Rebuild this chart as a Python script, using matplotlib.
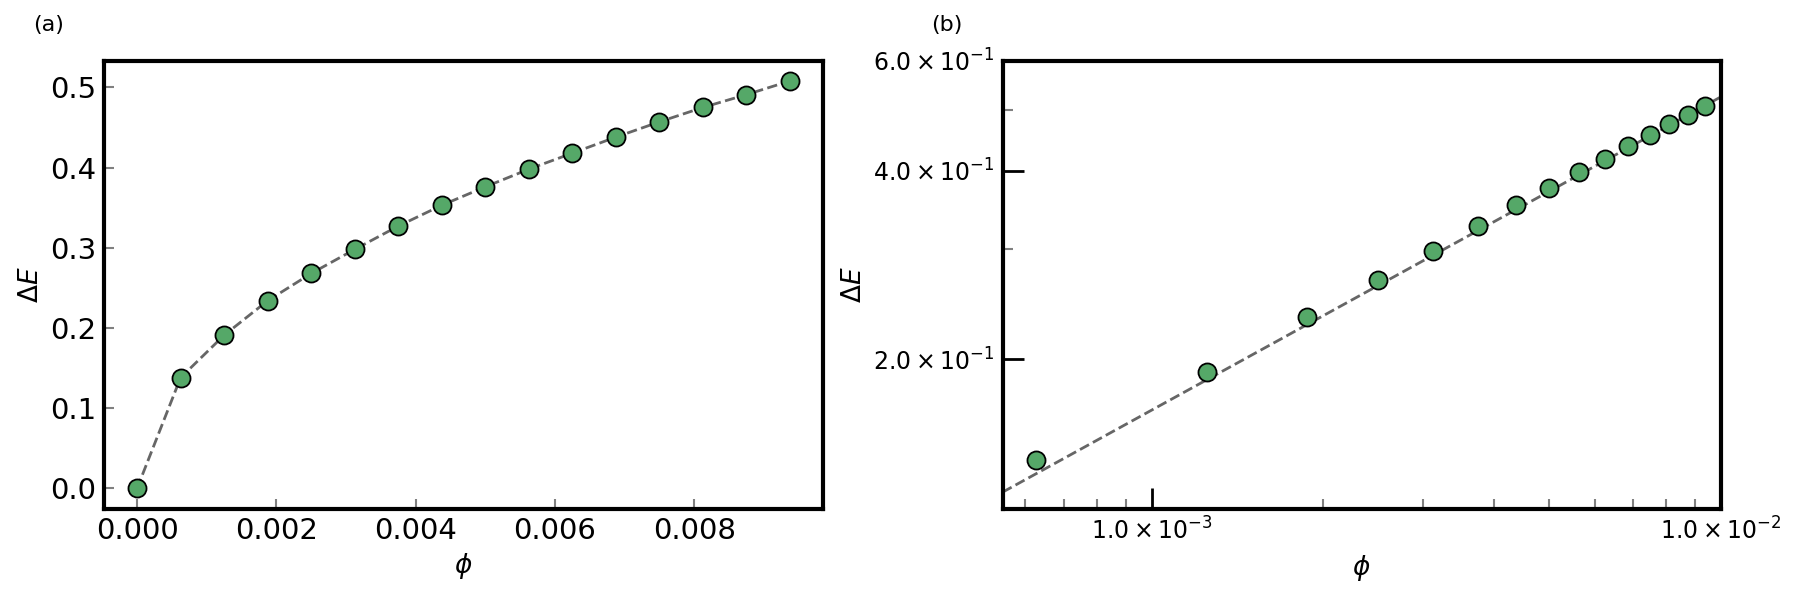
import numpy as np
import matplotlib
matplotlib.use("Agg")
import matplotlib.pyplot as plt
from matplotlib.ticker import FixedLocator, FuncFormatter, NullFormatter

# data
phi = [0.0, 0.000625, 0.00125, 0.001875, 0.0025, 0.003125, 0.00375, 0.004375,
       0.005, 0.005625, 0.00625, 0.006875, 0.0075, 0.008125, 0.00875, 0.009375]
dE = [0.0, 0.138, 0.191, 0.234, 0.268, 0.298, 0.327, 0.353,
      0.376, 0.398, 0.418, 0.438, 0.457, 0.475, 0.491, 0.508]

# power-law guide line in (b): dE = A * phi**b
fit_A = 5.25
fit_b = 0.5

y_major = [0.2, 0.4, 0.6]
y_minor = [0.3, 0.5]
x_major = [1e-3, 1e-2]
x_minor = [6e-4, 7e-4, 8e-4, 9e-4, 2e-3, 3e-3, 4e-3, 5e-3, 6e-3, 7e-3, 8e-3, 9e-3]

green = "#55a868"
line_col = "#666666"

fig = plt.figure(figsize=(18, 6), dpi=100)
ax1 = fig.add_axes([0.058, 0.152, 0.399, 0.747])
ax2 = fig.add_axes([0.557, 0.152, 0.399, 0.747])

# (a) linear
ax1.plot(phi, dE, "--", color=line_col, lw=2, zorder=1)
ax1.plot(phi, dE, "o", ms=13, mfc=green, mec="black", mew=1.3, zorder=2)
ax1.set_xticks([0.0, 0.002, 0.004, 0.006, 0.008])
ax1.set_yticks([0.0, 0.1, 0.2, 0.3, 0.4, 0.5])
ax1.tick_params(direction="in", length=7, width=1.5, color="gray",
                labelsize=21, pad=6)
ax1.set_xlabel(r"$\phi$", fontsize=19)
ax1.set_ylabel(r"$\Delta E$", fontsize=19)

# (b) log-log
x = np.array(phi[1:])
y = np.array(dE[1:])
xl = (5.47e-4, 1e-2)
xf = np.logspace(np.log10(xl[0]), np.log10(xl[1]), 100)
ax2.plot(xf, fit_A * xf ** fit_b, "--", color=line_col, lw=2, zorder=1)
ax2.plot(x, y, "o", ms=13, mfc=green, mec="black", mew=1.3, zorder=2)
ax2.set_xscale("log")
ax2.set_yscale("log")
ax2.set_xlim(*xl)
ax2.set_ylim(0.1155, 0.6)

fmt = FuncFormatter(lambda v, pos: r"$%.1f\times10^{%d}$" % (v / 10 ** np.floor(np.log10(v)), np.floor(np.log10(v))))
ax2.yaxis.set_major_locator(FixedLocator(y_major))
ax2.yaxis.set_minor_locator(FixedLocator(y_minor))
ax2.xaxis.set_major_locator(FixedLocator(x_major))
ax2.xaxis.set_minor_locator(FixedLocator(x_minor))
ax2.yaxis.set_major_formatter(fmt)
ax2.xaxis.set_major_formatter(fmt)
ax2.yaxis.set_minor_formatter(NullFormatter())
ax2.xaxis.set_minor_formatter(NullFormatter())
ax2.tick_params(which="major", direction="in", length=15, width=2, color="black",
                labelsize=17, pad=6)
ax2.tick_params(which="minor", direction="in", length=7, width=1.5, color="gray")
ax2.set_xlabel(r"$\phi$", fontsize=19, labelpad=6)
ax2.set_ylabel(r"$\Delta E$", fontsize=19)

for ax in (ax1, ax2):
    for s in ax.spines.values():
        s.set_linewidth(3)

fig.text(0.027, 0.958, "(a)", fontsize=16, ha="center", va="center")
fig.text(0.526, 0.958, "(b)", fontsize=16, ha="center", va="center")

fig.savefig("out.png", dpi=100)
